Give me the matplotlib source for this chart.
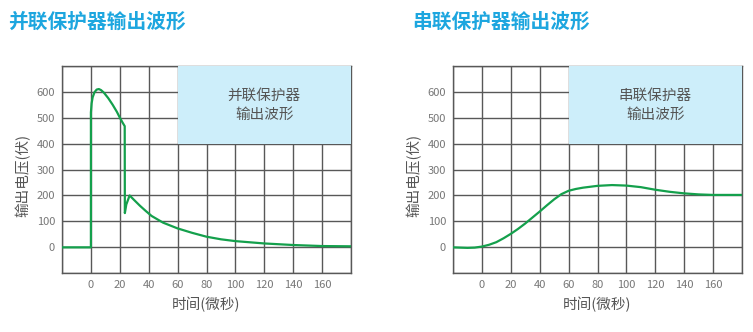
import numpy as np
import matplotlib.pyplot as plt
from matplotlib.patches import Rectangle

plt.rcParams['font.family'] = ['Noto Sans CJK SC', 'DejaVu Sans']

# parallel protector: output voltage (V) vs time (us)
par_t = [-20, 0, 0.01, 0.5, 1.2, 2.5, 4, 5.5, 7, 9, 12, 15, 18, 20, 22, 23.4,
         23.5, 24.5, 26.8, 30, 34, 38, 42, 50, 60, 70, 80, 90, 100, 120, 140, 160, 180]
par_v = [0, 0, 520, 555, 578, 598, 608, 610, 606, 596, 575, 550, 522, 500, 480, 467,
         132, 165, 200, 182, 160, 140, 121, 95, 73, 56, 41, 31, 24, 15, 9, 5, 4]

# series protector
ser_t = [-20, -15, -10, -5, 0, 5, 10, 15, 20, 25, 30, 35, 40, 45, 50, 55, 60, 65, 70,
         80, 90, 100, 110, 120, 130, 140, 150, 160, 170, 180]
ser_v = [0, -1, -2, -1, 3, 10, 20, 35, 52, 71, 92, 115, 138, 162, 185, 205, 218, 225, 230,
         237, 240, 238, 232, 222, 214, 208, 204, 202, 202, 202]

x_ticks = [0, 20, 40, 60, 80, 100, 120, 140, 160]
y_ticks = [0, 100, 200, 300, 400, 500, 600]

titles = ['并联保护器输出波形', '串联保护器输出波形']
box_texts = ['并联保护器\n输出波形', '串联保护器\n输出波形']
series = [(par_t, par_v), (ser_t, ser_v)]

blue = '#1da6df'
green = '#14a04c'
grid_c = '#585858'
text_c = '#555555'

fig = plt.figure(figsize=(7.53, 3.32), dpi=100)

lefts = [62 / 753, 453 / 753]
title_x = [8 / 753, 412 / 753]

for i in range(2):
    ax = fig.add_axes([lefts[i], 58.7 / 332, 289 / 753, 207.6 / 332])
    ax.set_xlim(-20, 180)
    ax.set_ylim(-100, 700)
    ax.set_xticks(np.arange(-20, 181, 20), minor=True)
    ax.set_yticks(np.arange(-100, 701, 100), minor=True)
    ax.set_xticks(x_ticks)
    ax.set_yticks(y_ticks)
    ax.grid(True, which='both', color=grid_c, linewidth=1.0)
    ax.set_axisbelow(True)
    ax.tick_params(which='both', length=0, labelsize=8, labelcolor='#777777')
    ax.tick_params(axis='y', pad=5)
    ax.tick_params(axis='x', pad=5)
    for s in ax.spines.values():
        s.set_color(grid_c)
        s.set_linewidth(1.0)

    t, v = series[i]
    ax.plot(t, v, color=green, linewidth=1.6, zorder=3)

    ax.add_patch(Rectangle((60, 400), 120, 300, facecolor='#cdeefa', edgecolor='none',
                           zorder=4, clip_on=False))
    ax.text(120, 547, box_texts[i], ha='center', va='center', fontsize=10.5,
            color=text_c, linespacing=1.45, zorder=5)

    ax.set_xlabel('时间(微秒)', fontsize=10.5, color=text_c, labelpad=5)
    ax.set_ylabel('输出电压(伏)', fontsize=10.5, color=text_c)
    ax.yaxis.set_label_coords(-0.11, 0.47)

    fig.text(title_x[i], 0.932, titles[i], fontsize=14.2, fontweight='bold',
             color=blue, ha='left', va='center')

fig.savefig('out.png', dpi=100)
